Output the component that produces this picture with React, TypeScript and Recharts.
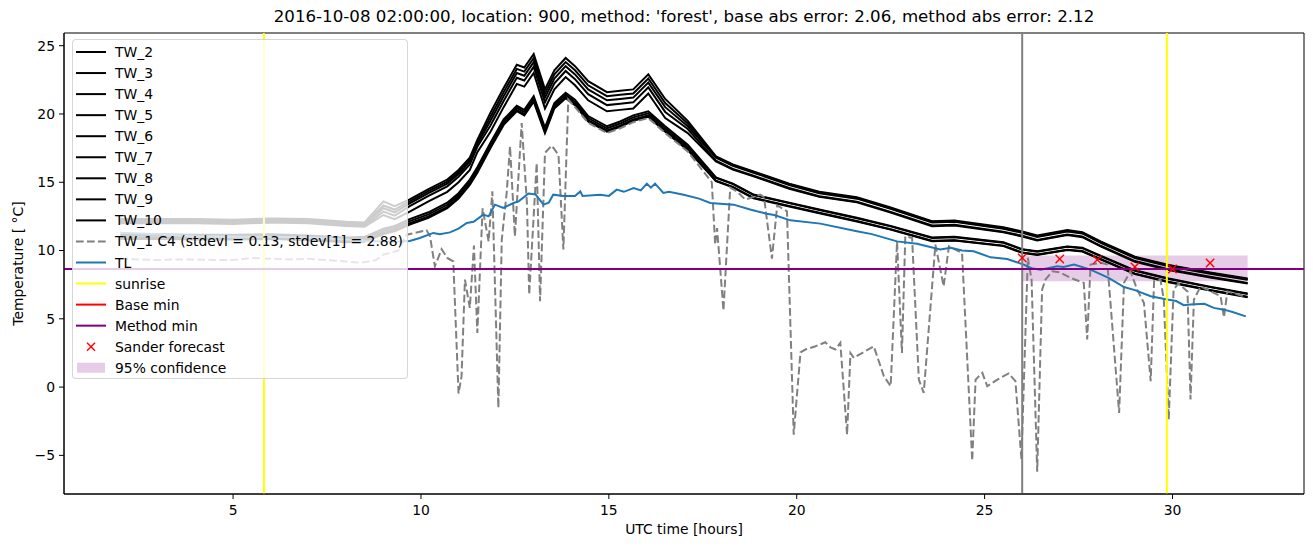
import React from 'react';
import { ComposedChart, Line, XAxis, YAxis, ReferenceLine, ReferenceArea, Scatter, Legend, Label } from 'recharts';

const HOURS = [2, 3, 4, 5, 6, 7, 8, 8.5, 9.0, 9.3, 9.7, 10.2, 10.7, 11.0, 11.3, 11.5, 11.85, 12.2, 12.55, 12.75, 13.0, 13.3, 13.55, 13.85, 14.1, 14.45, 14.95, 15.3, 15.65, 16.05, 16.5, 17.1, 17.85, 18.3, 18.85, 19.8, 20.6, 21.6, 22.5, 23.6, 24.2, 25.5, 26.0, 26.4, 27.2, 27.6, 28.1, 29.0, 29.9, 31.0, 32.0];

const TW_2 = [12.3,12.3,12.3,12.25,12.35,12.3,12.1,12.05,13.6,13.25,13.75,14.5,15.2,15.9,16.8,18.1,20.1,21.9,23.6,23.4,24.4,21.8,23.2,24.1,23.5,22.4,21.6,21.7,21.8,22.9,21.1,19.5,16.9,16.3,15.8,14.9,14.3,13.9,13.15,12.15,12.2,11.7,11.4,11.1,11.5,11.35,10.65,9.55,8.95,8.4,7.95];
const TW_3 = [12.22,12.22,12.22,12.17,12.27,12.22,12.02,11.97,13.3,13.0,13.6,14.35,15.05,15.75,16.65,17.95,19.8,21.6,23.3,23.1,24.1,21.5,22.9,23.8,23.2,22.1,21.3,21.4,21.5,22.6,20.8,19.3,16.85,16.25,15.75,14.85,14.25,13.85,13.1,12.1,12.15,11.65,11.35,11.05,11.45,11.3,10.6,9.5,8.9,8.35,7.9];
const TW_4 = [12.14,12.14,12.14,12.09,12.19,12.14,11.94,11.89,13.1,12.8,13.45,14.2,14.9,15.6,16.5,17.8,19.5,21.3,23.0,22.8,23.8,21.2,22.6,23.5,22.9,21.8,21.0,21.1,21.2,22.3,20.5,19.1,16.8,16.2,15.7,14.8,14.2,13.8,13.05,12.05,12.1,11.6,11.3,11.0,11.4,11.25,10.55,9.45,8.85,8.3,7.85];
const TW_5 = [12.06,12.06,12.06,12.01,12.11,12.06,11.86,11.81,12.85,12.55,13.25,14.0,14.7,15.4,16.3,17.6,19.15,20.95,22.65,22.45,23.45,20.85,22.25,23.15,22.55,21.45,20.65,20.75,20.85,21.95,20.15,18.9,16.58,15.98,15.48,14.58,13.98,13.58,12.83,11.83,11.88,11.38,11.08,10.78,11.18,11.03,10.33,9.23,8.63,8.08,7.63];
const TW_6 = [12.0,12.0,12.0,11.95,12.05,12.0,11.8,11.75,12.6,12.3,12.85,13.6,14.3,15.0,15.9,17.2,18.7,20.5,22.2,22.0,23.0,20.4,21.8,22.7,22.1,21.0,20.2,20.3,20.4,21.5,19.7,18.6,16.53,15.93,15.43,14.53,13.93,13.53,12.78,11.78,11.83,11.33,11.03,10.73,11.13,10.98,10.28,9.18,8.58,8.03,7.58];
const TW_7 = [11.2,11.2,11.15,11.15,11.2,11.1,10.95,11.0,11.6,11.8,12.3,12.8,13.5,14.2,15.2,16.1,17.9,19.6,20.6,20.3,21.3,19.0,20.8,21.55,21.05,19.85,19.1,19.45,19.9,20.2,19.1,17.75,15.35,14.9,14.1,13.5,13.0,12.4,11.8,10.95,11.0,10.6,10.1,9.95,10.3,10.2,9.6,8.55,7.95,7.35,6.85];
const TW_8 = [11.1,11.1,11.05,11.05,11.1,11.0,10.85,10.9,11.45,11.65,12.15,12.65,13.35,14.05,15.05,15.95,17.75,19.45,20.45,20.15,21.15,18.85,20.65,21.4,20.9,19.7,18.95,19.3,19.75,20.05,18.95,17.6,15.32,14.87,14.07,13.47,12.97,12.37,11.77,10.92,10.97,10.57,10.07,9.92,10.27,10.17,9.57,8.52,7.92,7.32,6.82];
const TW_9 = [10.95,10.95,10.9,10.9,10.95,10.85,10.7,10.75,11.3,11.5,12.0,12.5,13.2,13.9,14.9,15.8,17.6,19.3,20.3,20.0,21.0,18.7,20.5,21.25,20.75,19.55,18.8,19.15,19.6,19.9,18.8,17.45,15.11,14.66,13.86,13.26,12.76,12.16,11.56,10.71,10.76,10.36,9.86,9.71,10.06,9.96,9.36,8.31,7.71,7.11,6.61];
const TW_10 = [10.85,10.85,10.8,10.8,10.85,10.75,10.6,10.65,11.2,11.4,11.9,12.4,13.1,13.8,14.8,15.7,17.5,19.2,20.2,19.9,20.9,18.6,20.4,21.15,20.65,19.45,18.7,19.05,19.5,19.8,18.7,17.35,15.08,14.63,13.83,13.23,12.73,12.13,11.53,10.68,10.73,10.33,9.83,9.68,10.03,9.93,9.33,8.28,7.68,7.08,6.58];

const TW_1 = [[2,9.4],[2.5,9.35],[3,9.3],[3.5,9.35],[4,9.35],[4.5,9.3],[5,9.3],[5.5,9.45],[6,9.4],[6.5,9.35],[7,9.4],[7.5,9.3],[8,9.2],[8.4,9.1],[8.8,9.3],[9.0,9.7],[9.4,10.0],[9.62,11.16],[10.15,11.48],[10.24,11.04],[10.37,8.84],[10.55,10.1],[10.7,9.46],[10.86,9.2],[11.0,-0.47],[11.08,0.8],[11.17,7.87],[11.3,5.8],[11.41,10.36],[11.5,3.97],[11.64,13.1],[11.8,10.67],[11.9,14.33],[12.06,-1.52],[12.15,10.8],[12.28,14.2],[12.37,17.63],[12.5,11.04],[12.68,19.34],[12.82,13.48],[12.88,6.77],[13.08,16.41],[13.17,6.28],[13.3,17.15],[13.48,17.68],[13.66,17.0],[13.79,10.07],[13.92,21.05],[14.1,20.5],[14.45,19.35],[14.95,18.6],[15.3,18.95],[15.65,19.4],[16.05,19.7],[16.5,18.6],[17.1,17.25],[17.74,15.0],[17.83,10.43],[17.88,11.65],[18.05,5.6],[18.23,14.6],[18.41,14.33],[18.63,13.73],[19.03,14.09],[19.13,13.9],[19.34,9.4],[19.48,13.3],[19.74,12.87],[19.92,-3.48],[20.1,2.55],[20.23,2.75],[20.5,2.99],[20.76,3.28],[20.9,2.9],[21.03,2.75],[21.16,3.24],[21.34,-3.48],[21.43,2.5],[21.52,2.14],[22.05,2.99],[22.32,0.79],[22.5,0.06],[22.67,10.67],[22.8,2.5],[22.89,11.04],[23.07,10.92],[23.25,0.55],[23.38,-0.43],[23.69,10.43],[23.91,7.38],[24.05,10.31],[24.4,9.82],[24.67,-5.4],[24.76,0.55],[24.94,1.04],[25.07,0.06],[25.34,0.55],[25.64,1.0],[25.82,0.43],[25.98,-5.3],[26.15,9.46],[26.25,7.87],[26.4,-6.2],[26.53,7.14],[26.62,7.87],[26.8,8.48],[27.0,8.4],[27.29,7.99],[27.64,7.63],[27.73,3.48],[27.82,8.97],[28.1,9.1],[28.27,8.97],[28.58,-1.89],[28.71,7.63],[28.88,8.48],[29.06,7.14],[29.24,6.16],[29.42,0.43],[29.51,7.75],[29.68,7.87],[29.77,6.41],[29.9,-2.38],[30.03,7.14],[30.16,7.6],[30.4,7.0],[30.48,-0.91],[30.57,6.4],[30.75,7.38],[31.1,6.9],[31.28,6.65],[31.37,5.1],[31.46,7.0],[31.73,6.8],[31.95,6.6]];

const TL = [[2,11.3],[3,11.2],[4,11.05],[5,11.0],[6,11.0],[7,10.95],[8,10.8],[8.5,10.7],[9.3,10.65],[9.7,10.7],[9.97,10.92],[10.33,11.29],[10.5,11.2],[10.77,11.33],[11.0,11.6],[11.22,12.02],[11.4,12.1],[11.66,12.63],[11.8,12.5],[11.97,13.36],[12.19,13.12],[12.46,13.48],[12.6,13.6],[12.86,14.17],[13.05,14.1],[13.26,13.36],[13.4,13.5],[13.52,14.09],[13.79,14.0],[14.1,14.0],[14.24,14.33],[14.3,14.0],[14.77,14.09],[15.0,14.0],[15.21,14.46],[15.4,14.3],[15.66,14.58],[15.85,14.4],[16.01,14.9],[16.12,14.6],[16.23,14.9],[16.45,14.22],[16.6,14.3],[16.99,14.09],[17.4,13.8],[17.7,13.48],[18.32,13.36],[18.76,13.0],[18.94,12.87],[19.2,12.7],[19.4,12.6],[19.83,12.21],[20.63,11.97],[21.6,11.41],[22.0,11.2],[22.67,10.67],[23.2,10.5],[23.82,10.07],[24.1,10.2],[24.4,10.0],[24.71,9.94],[25.16,9.5],[25.6,9.38],[26.04,8.97],[26.25,8.7],[26.49,8.6],[26.93,8.84],[27.1,8.8],[27.38,8.97],[27.82,8.6],[28.3,8.0],[28.71,7.33],[29.0,7.1],[29.42,6.65],[29.86,6.41],[30.1,6.3],[30.3,6.0],[30.48,6.04],[30.85,6.1],[31.1,5.8],[31.37,5.67],[31.6,5.5],[31.95,5.18]];

const SANDER_HOURS = [26, 27, 28, 29, 30, 31];
const SANDER_VALUES = [9.46, 9.38, 9.33, 8.8, 8.65, 9.09];

const SUNRISE_HOURS = [5.82, 29.85];
const NOW_HOUR = 26.0;
const BASE_MIN = 8.65;
const METHOD_MIN = 8.65;
const CONF_HOURS = [26, 32];
const CONF_RANGE = [7.75, 9.63];

const X_DOMAIN = [0.5, 33.5];
const Y_DOMAIN = [-7.83, 25.93];
const X_TICKS = [5, 10, 15, 20, 25, 30];
const Y_TICKS = [-5, 0, 5, 10, 15, 20, 25];

const TITLE = "2016-10-08 02:00:00, location: 900, method: 'forest', base abs error: 2.06, method abs error: 2.12";

const TW_SERIES = [
  { name: 'TW_2', values: TW_2 },
  { name: 'TW_3', values: TW_3 },
  { name: 'TW_4', values: TW_4 },
  { name: 'TW_5', values: TW_5 },
  { name: 'TW_6', values: TW_6 },
  { name: 'TW_7', values: TW_7 },
  { name: 'TW_8', values: TW_8 },
  { name: 'TW_9', values: TW_9 },
  { name: 'TW_10', values: TW_10 },
];

const LEGEND_ITEMS = [
  ...TW_SERIES.map((s) => ({ label: s.name, kind: 'line', color: '#000000' })),
  { label: 'TW_1 C4 (stdevl = 0.13, stdev[1] = 2.88)', kind: 'dash', color: '#808080' },
  { label: 'TL', kind: 'line', color: '#1f77b4' },
  { label: 'sunrise', kind: 'line', color: '#ffff00' },
  { label: 'Base min', kind: 'line', color: '#ff0000' },
  { label: 'Method min', kind: 'line', color: '#800080' },
  { label: 'Sander forecast', kind: 'x', color: '#ff0000' },
  { label: '95% confidence', kind: 'patch', color: '#800080' },
];

const FONT = "'DejaVu Sans', 'Liberation Sans', sans-serif";

const twRows = (values: number[]) => HOURS.map((h, i) => ({ h, v: values[i] }));
const pairRows = (pairs: number[][]) => pairs.map(([h, v]) => ({ h, v }));
const sanderRows = SANDER_HOURS.map((h, i) => ({ h, v: SANDER_VALUES[i] }));

const fmt = (v: number) => (v < 0 ? '\u2212' + Math.abs(v) : String(v));

const XMark = (props: any) => {
  const { cx, cy } = props;
  if (cx == null || cy == null) return null;
  const r = 4.2;
  return (
    <g>
      <line x1={cx - r} y1={cy - r} x2={cx + r} y2={cy + r} stroke="#ff0000" strokeWidth={1.4} />
      <line x1={cx - r} y1={cy + r} x2={cx + r} y2={cy - r} stroke="#ff0000" strokeWidth={1.4} />
    </g>
  );
};

const LegendBox = () => {
  const rowY = (i: number) => 12 + i * 21.05;
  return (
    <div
      style={{
        width: 336,
        height: 340,
        boxSizing: 'border-box',
        background: 'rgba(255,255,255,0.8)',
        border: '1px solid rgba(204,204,204,0.8)',
        borderRadius: 4,
      }}
    >
      <svg width={334} height={338} style={{ display: 'block' }}>
        {LEGEND_ITEMS.map((it, i) => {
          const y = rowY(i);
          let handle: React.ReactNode = null;
          if (it.kind === 'line') {
            handle = <line x1={3} x2={33} y1={y} y2={y} stroke={it.color} strokeWidth={2} />;
          } else if (it.kind === 'dash') {
            handle = <line x1={3} x2={33} y1={y} y2={y} stroke={it.color} strokeWidth={2} strokeDasharray="7.7 3.3" />;
          } else if (it.kind === 'x') {
            handle = (
              <g>
                <line x1={14} y1={y - 4} x2={22} y2={y + 4} stroke={it.color} strokeWidth={1.4} />
                <line x1={14} y1={y + 4} x2={22} y2={y - 4} stroke={it.color} strokeWidth={1.4} />
              </g>
            );
          } else {
            handle = <rect x={4} y={y - 5} width={28} height={10} fill={it.color} fillOpacity={0.2} />;
          }
          return (
            <g key={it.label}>
              {handle}
              <text x={42} y={y} dominantBaseline="central" fontSize={13.9} fontFamily={FONT} fill="#000">
                {it.label}
              </text>
            </g>
          );
        })}
      </svg>
    </div>
  );
};

export default function App() {
  return (
    <div style={{ position: 'relative', width: 1313, height: 547, background: '#fff', fontFamily: FONT }}>
      <style>{'body{margin:0;}'}</style>
      <div
        style={{
          position: 'absolute',
          left: 184,
          width: 1000,
          top: 7,
          textAlign: 'center',
          fontSize: 16.67,
          lineHeight: '20px',
          fontFamily: FONT,
          color: '#000',
          whiteSpace: 'nowrap',
        }}
      >
        {TITLE}
      </div>
      <ComposedChart width={1313} height={547} margin={{ top: 33, right: 9, bottom: 0, left: 0 }}>
        <XAxis
          type="number"
          dataKey="h"
          domain={X_DOMAIN}
          ticks={X_TICKS}
          allowDataOverflow
          height={53}
          tickSize={5}
          tickMargin={6}
          tick={{ fontSize: 13.9, fill: '#000', fontFamily: FONT }}
          tickLine={{ stroke: '#000', strokeWidth: 1 }}
          axisLine={{ stroke: '#000', strokeWidth: 1 }}
          label={
            <Label
              content={() => (
                <text x={684} y={534} textAnchor="middle" fontSize={13.9} fontFamily={FONT} fill="#000">
                  UTC time [hours]
                </text>
              )}
            />
          }
        />
        <YAxis
          type="number"
          domain={Y_DOMAIN}
          ticks={Y_TICKS}
          allowDataOverflow
          width={64}
          tickSize={5}
          tickMargin={4}
          tickFormatter={fmt}
          tick={{ fontSize: 13.9, fill: '#000', fontFamily: FONT }}
          tickLine={{ stroke: '#000', strokeWidth: 1 }}
          axisLine={{ stroke: '#000', strokeWidth: 1 }}
          label={
            <Label
              content={() => (
                <text
                  x={18}
                  y={263.5}
                  transform="rotate(-90 18 263.5)"
                  textAnchor="middle"
                  dominantBaseline="central"
                  fontSize={13.9}
                  fontFamily={FONT}
                  fill="#000"
                >
                  Temperature [ °C]
                </text>
              )}
            />
          }
        />
        <ReferenceArea
          x1={CONF_HOURS[0]}
          x2={CONF_HOURS[1]}
          y1={CONF_RANGE[0]}
          y2={CONF_RANGE[1]}
          fill="#800080"
          fillOpacity={0.2}
          stroke="none"
          ifOverflow="hidden"
        />
        {TW_SERIES.map((s) => (
          <Line
            key={s.name}
            name={s.name}
            data={twRows(s.values)}
            dataKey="v"
            stroke="#000000"
            strokeWidth={2}
            dot={false}
            activeDot={false}
            type="linear"
            isAnimationActive={false}
          />
        ))}
        <Line
          name="TW_1"
          data={pairRows(TW_1)}
          dataKey="v"
          stroke="#808080"
          strokeWidth={2}
          strokeDasharray="7.7 3.3"
          dot={false}
          activeDot={false}
          type="linear"
          isAnimationActive={false}
        />
        <Line
          name="TL"
          data={pairRows(TL)}
          dataKey="v"
          stroke="#1f77b4"
          strokeWidth={2}
          dot={false}
          activeDot={false}
          type="linear"
          isAnimationActive={false}
        />
        {SUNRISE_HOURS.map((h) => (
          <ReferenceLine key={'sr' + h} x={h} stroke="#ffff00" strokeWidth={2} ifOverflow="hidden" />
        ))}
        <ReferenceLine x={NOW_HOUR} stroke="#808080" strokeWidth={2} ifOverflow="hidden" />
        <ReferenceLine y={BASE_MIN} stroke="#ff0000" strokeWidth={2} ifOverflow="hidden" />
        <ReferenceLine y={METHOD_MIN} stroke="#800080" strokeWidth={2} ifOverflow="hidden" />
        <Scatter name="Sander forecast" data={sanderRows} dataKey="v" shape={XMark} isAnimationActive={false} />
        <ReferenceArea
          x1={X_DOMAIN[0]}
          x2={X_DOMAIN[1]}
          y1={Y_DOMAIN[0]}
          y2={Y_DOMAIN[1]}
          fill="none"
          stroke="#000"
          strokeWidth={1}
          ifOverflow="visible"
        />
        <Legend
          layout="horizontal"
          verticalAlign="middle"
          align="center"
          wrapperStyle={{ left: 72, top: 39, width: 336, height: 340 }}
          content={() => <LegendBox />}
        />
      </ComposedChart>
    </div>
  );
}
